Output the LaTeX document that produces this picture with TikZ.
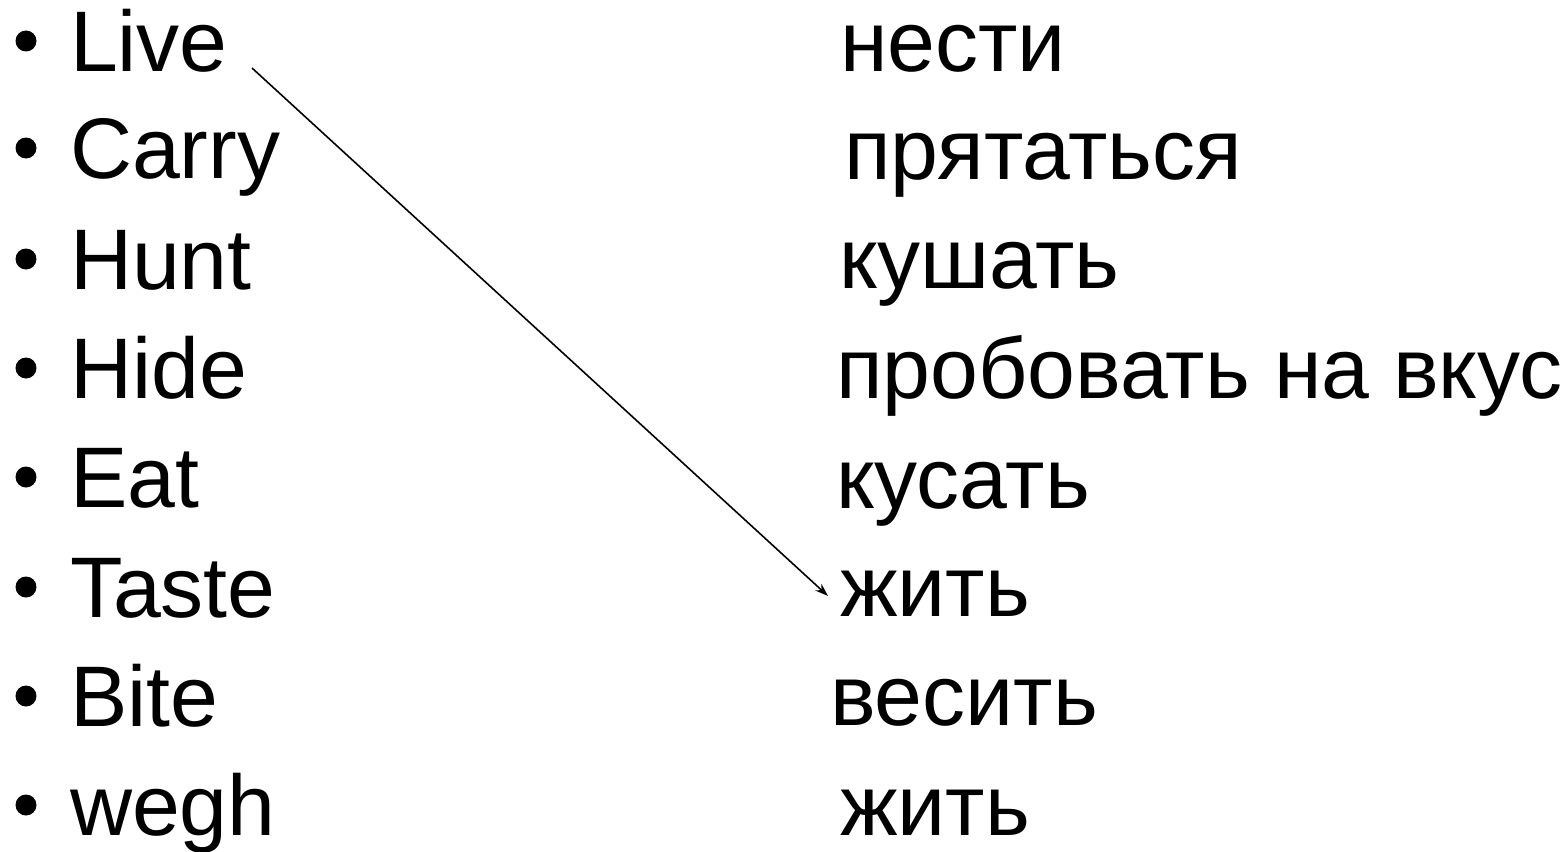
\documentclass[tikz,border=0pt]{standalone}
\usepackage{fontspec}
\setmainfont{Liberation Sans}
\usetikzlibrary{arrows.meta}
\begin{document}
\begin{tikzpicture}[x=1pt,y=-1pt,
  word/.style={anchor=base west,inner sep=0pt,outer sep=0pt,font=\fontsize{86}{100}\selectfont},
  bul/.style={circle,fill=black,inner sep=0pt,outer sep=0pt,minimum size=21pt},
  link/.style={line width=1.6pt,-{Stealth[length=13pt,width=9pt]}}]
\useasboundingbox (0,0) rectangle (1568,851);
% left column
\foreach \i/\w/\y in {1/Live/71,2/Carry/178,3/Hunt/289,4/Hide/398,5/Eat/507,6/Taste/617,7/Bite/726,8/wegh/835}{
  \node[bul] (b\i) at (26,\y-30) {};
  \node[word] (l\i) at (70,\y) {\w};
}
% right column
\node[word] (r1) at (840,71) {нести};
\node[word] (r2) at (844,179) {прятаться};
\node[word] (r3) at (839,288) {кушать};
\node[word] (r4) at (836,398) {пробовать на вкус};
\node[word] (r5) at (836,508) {кусать};
\node[word] (r6) at (840,616) {жить};
\node[word] (r7) at (830,725) {весить};
\node[word] (r8) at (840,835) {жить};
\coordinate (s) at (252,68);
\coordinate (e) at (828,596);
\draw[link] (s) -- (e);
\end{tikzpicture}
\end{document}
